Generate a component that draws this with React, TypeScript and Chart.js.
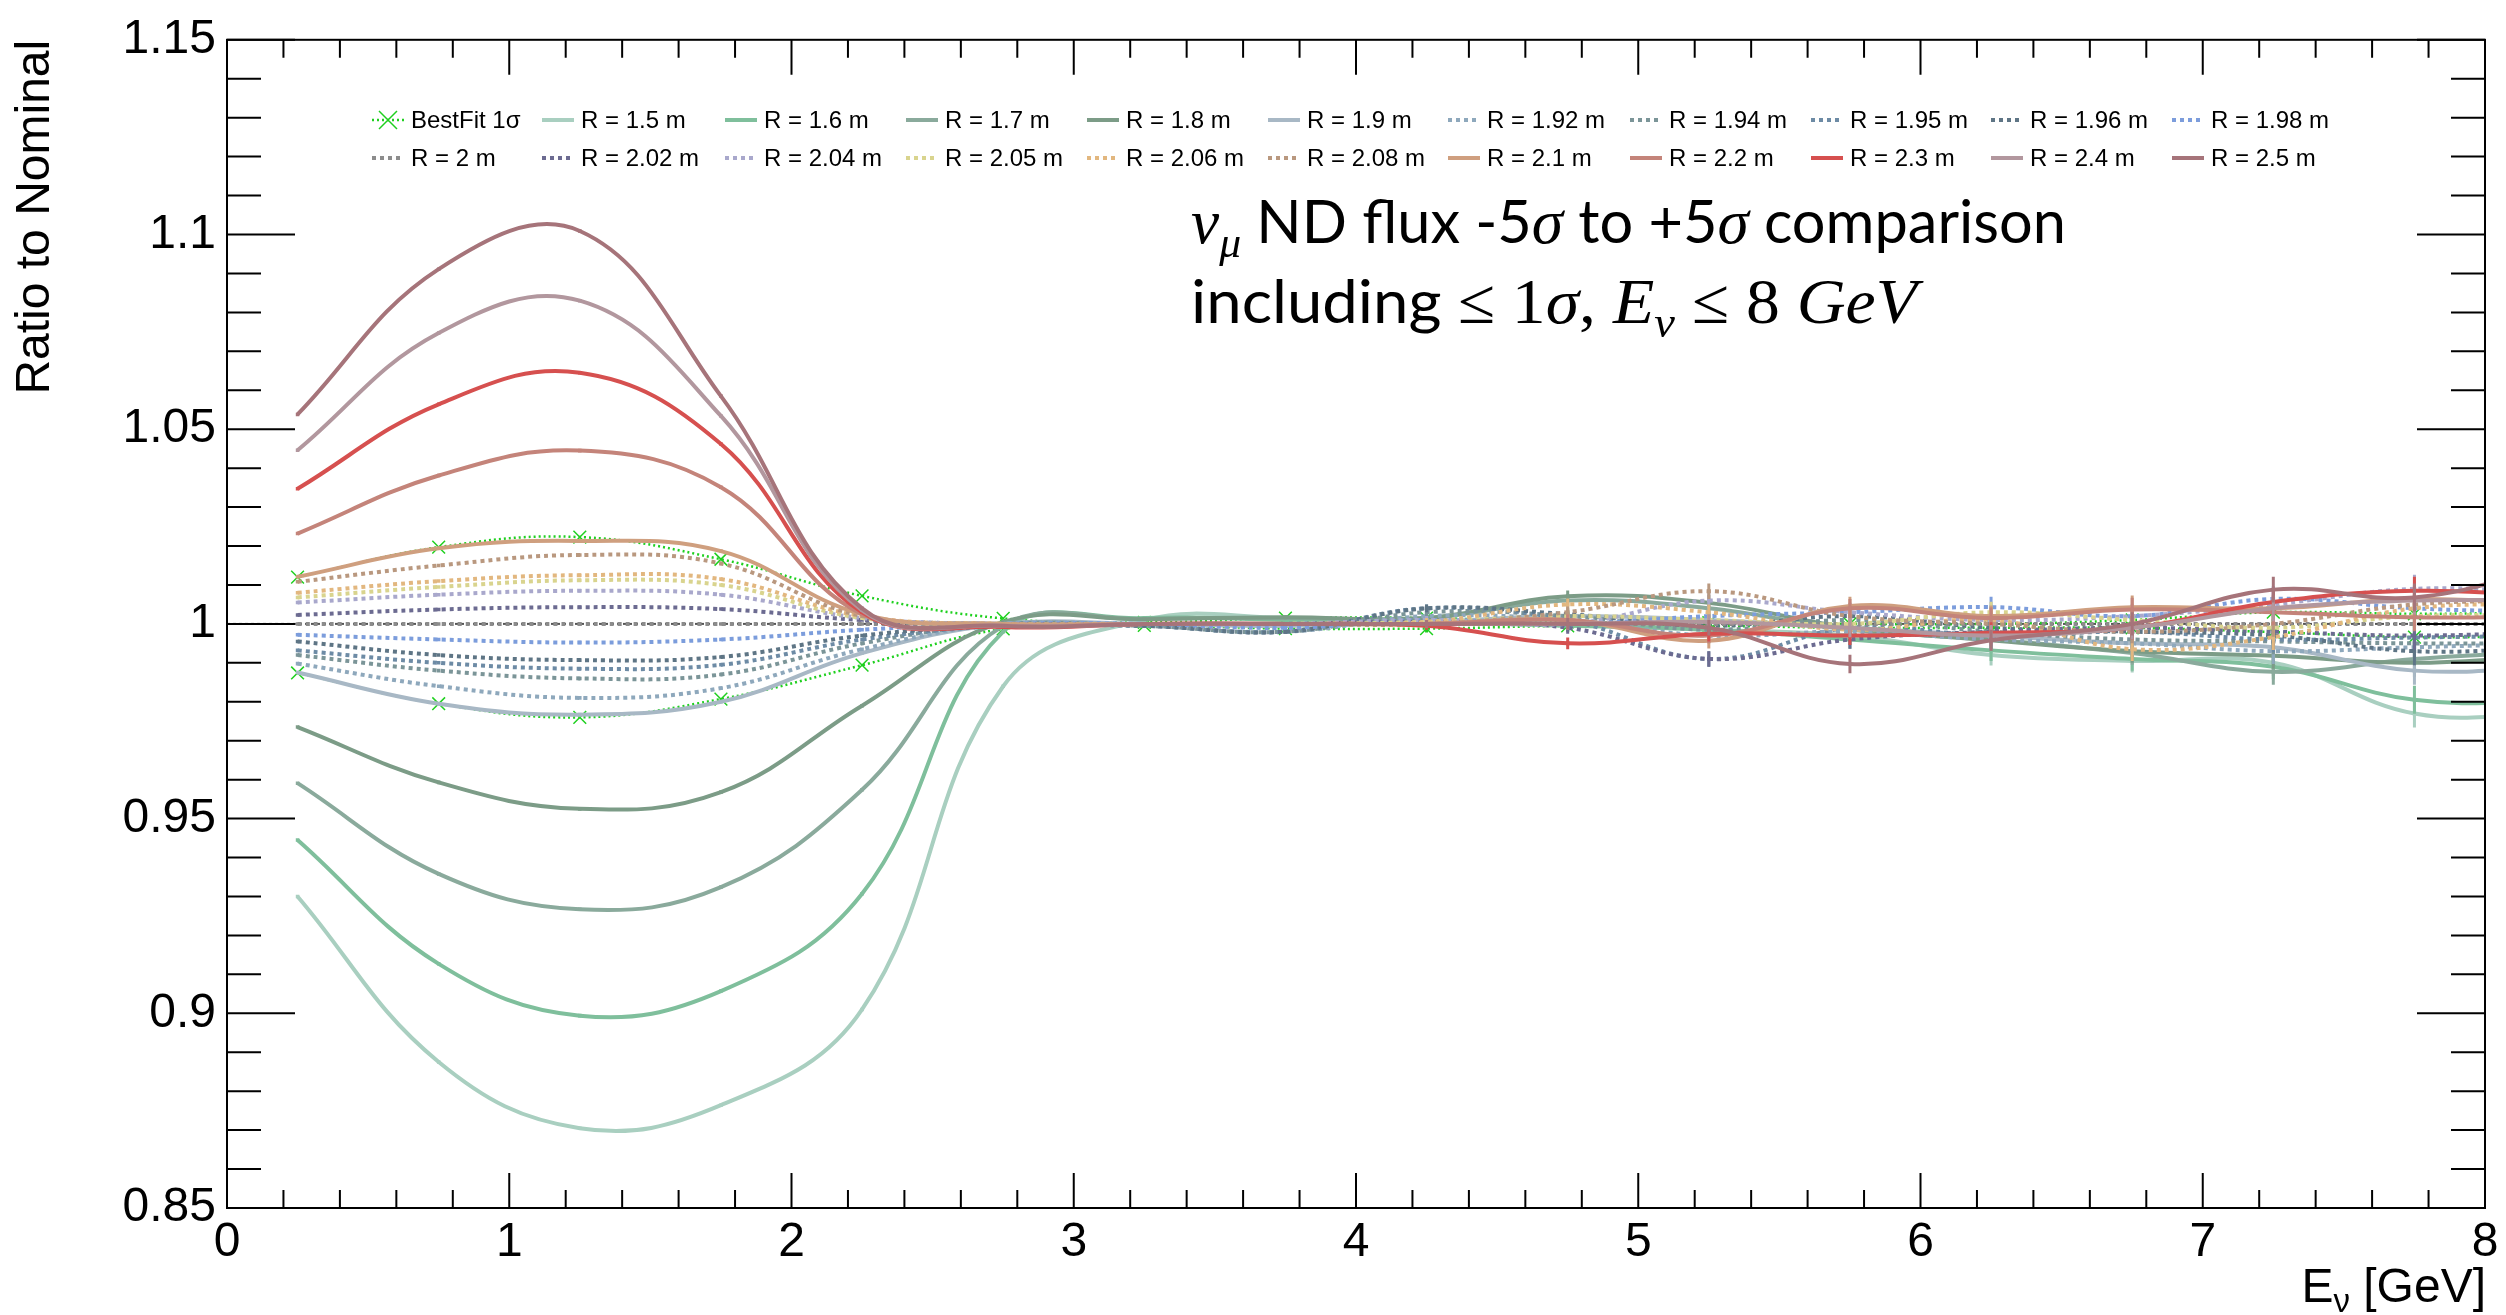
import React, { useEffect, useRef } from 'react';
import { Chart, registerables } from 'chart.js';

Chart.register(...registerables);

const W = 2506;
const H = 1315;
const FONT = '"Liberation Sans", Arial, Helvetica, sans-serif';
const TEXT_FONT = 'Lato, "Open Sans", sans-serif';
const MATH_FONT = '"Liberation Serif", "DejaVu Serif", serif';

// ---------- data ----------
const X_CENTERS = [0.25, 0.75, 1.25, 1.75, 2.25, 2.75, 3.25, 3.75, 4.25, 4.75, 5.25, 5.75, 6.25, 6.75, 7.25, 7.75, 8.25];
const X_TICKS = [0, 1, 2, 3, 4, 5, 6, 7, 8];
const Y_TICKS = [0.85, 0.9, 0.95, 1, 1.05, 1.1, 1.15];
const X_MIN = 0, X_MAX = 8, Y_MIN = 0.85, Y_MAX = 1.15;
const X_MINOR = 0.2, Y_MINOR = 0.01;
const REF_VALUE = 1;
const ERR = [0, 0, 0, 0, 0, 0, 0, 0.0005, 0.001, 0.0015, 0.002, 0.0024, 0.0027, 0.003, 0.0033, 0.0036, 0.004];

const BF_UP = [1.012, 1.0197, 1.0223, 1.0166, 1.0072, 1.0014, 1.0004, 1.0015, 1.0015, 1.0005, 1.0003, 1.0, 1.0, 1.001, 1.003, 1.0026, 1.003];
const BF_LO = [0.9874, 0.9795, 0.976, 0.9807, 0.9894, 0.9987, 0.9996, 0.9988, 0.9988, 0.9995, 0.9995, 0.999, 0.999, 0.999, 0.9979, 0.9966, 0.997];
const R150 = [0.930, 0.8875, 0.8705, 0.8764, 0.901, 0.984, 1.001, 1.0015, 1.0005, 1.0, 0.9985, 0.997, 0.992, 0.9905, 0.990, 0.977, 0.977];
const R160 = [0.9445, 0.9127, 0.8994, 0.9057, 0.9307, 0.998, 1.0015, 1.001, 1.0005, 0.9995, 0.9985, 0.996, 0.9932, 0.991, 0.989, 0.9805, 0.980];
const R170 = [0.9591, 0.9358, 0.9267, 0.9324, 0.9574, 0.9995, 1.0012, 1.0015, 1.0015, 1.006, 1.004, 0.9985, 0.996, 0.9925, 0.9877, 0.991, 0.993];
const R180 = [0.9735, 0.9593, 0.9525, 0.9568, 0.979, 1.0005, 1.0012, 1.0017, 1.0015, 1.0071, 1.0054, 0.999, 0.9958, 0.993, 0.9918, 0.990, 0.992];
const R190 = [0.9875, 0.9795, 0.9767, 0.980, 0.9925, 1.0, 1.0, 0.9995, 1.0005, 1.002, 1.001, 0.999, 0.997, 0.995, 0.994, 0.988, 0.989];
const R192 = [0.9898, 0.984, 0.981, 0.9835, 0.9935, 1.0, 0.9995, 0.998, 1.002, 1.001, 0.997, 0.998, 0.996, 0.995, 0.993, 0.994, 0.995];
const R194 = [0.992, 0.988, 0.986, 0.987, 0.995, 1.0, 0.9995, 0.998, 1.003, 1.002, 0.9985, 1.001, 0.998, 0.996, 0.9955, 0.995, 0.995];
const R195 = [0.9932, 0.990, 0.9885, 0.9895, 0.996, 0.9995, 0.9995, 0.998, 1.004, 1.001, 0.991, 0.999, 0.997, 0.998, 0.996, 0.9965, 0.997];
const R196 = [0.9955, 0.992, 0.9907, 0.9915, 0.997, 0.9995, 0.9995, 0.998, 1.004, 1.0025, 0.9995, 1.002, 0.999, 0.998, 0.997, 0.993, 0.994];
const R198 = [0.9972, 0.996, 0.9952, 0.996, 0.9985, 1.0, 1.0, 0.999, 1.001, 1.0, 1.002, 1.003, 1.0043, 1.002, 1.0064, 1.004, 1.003];
const R200 = [1, 1, 1, 1, 1, 1, 1, 1, 1, 1, 1, 1, 1, 1, 1, 1, 1];
const R202 = [1.0023, 1.0037, 1.0043, 1.0038, 1.001, 1.0, 1.0, 1.0, 1.0005, 0.999, 0.991, 0.996, 0.998, 0.999, 0.998, 0.997, 0.998];
const R204 = [1.0055, 1.0075, 1.0085, 1.0075, 1.0015, 1.0, 1.0, 1.0, 1.001, 1.0, 1.006, 1.003, 1.001, 1.002, 1.005, 1.009, 1.008];
const R205 = [1.0068, 1.0095, 1.0112, 1.010, 1.0015, 1.0, 1.0, 1.0, 1.0005, 1.002, 1.001, 1.0, 1.003, 1.001, 0.999, 1.002, 1.002];
const R206 = [1.008, 1.011, 1.0125, 1.0115, 1.002, 1.0, 1.0, 1.0, 1.0005, 1.005, 1.003, 0.9985, 1.001, 0.9935, 0.9966, 1.004, 1.005];
const R208 = [1.0108, 1.015, 1.0177, 1.0155, 1.002, 1.0, 1.0, 1.0, 1.0, 1.003, 1.0084, 1.002, 1.0, 0.998, 1.0, 1.005, 1.006];
const R210 = [1.0121, 1.0194, 1.0213, 1.0187, 1.0025, 1.0, 1.0, 1.0, 1.0, 1.001, 0.9957, 1.0046, 1.002, 1.0043, 1.004, 1.0064, 1.005];
const R220 = [1.0232, 1.0381, 1.0445, 1.0351, 1.0025, 0.9995, 1.0, 1.0, 1.0, 1.001, 0.997, 1.004, 1.0015, 1.0037, 1.003, 1.0017, 1.002];
const R230 = [1.0347, 1.0564, 1.0645, 1.0462, 1.003, 0.9992, 1.0, 1.0, 0.9995, 0.995, 0.9975, 0.997, 0.9977, 0.999, 1.0056, 1.0085, 1.007];
const R240 = [1.0446, 1.0747, 1.083, 1.0534, 1.0035, 0.9995, 1.0, 1.0, 1.0, 1.0, 1.0005, 0.999, 0.997, 0.999, 1.004, 1.006, 1.006];
const R250 = [1.0538, 1.0911, 1.1009, 1.0585, 1.004, 0.9995, 1.0, 1.0, 1.0, 1.0, 0.999, 0.9897, 0.9958, 1.0, 1.0088, 1.0068, 1.015];

const BF_COLOR = '#1fd01f';

type Series = { label: string; values: number[]; color: string; dotted: boolean };
const SERIES: Series[] = [
  { label: 'R = 1.5 m', values: R150, color: '#a9cfc0', dotted: false },
  { label: 'R = 1.6 m', values: R160, color: '#7fbf9c', dotted: false },
  { label: 'R = 1.7 m', values: R170, color: '#8aaa9c', dotted: false },
  { label: 'R = 1.8 m', values: R180, color: '#7c9c87', dotted: false },
  { label: 'R = 1.9 m', values: R190, color: '#a8b8c5', dotted: false },
  { label: 'R = 1.92 m', values: R192, color: '#8ea8bc', dotted: true },
  { label: 'R = 1.94 m', values: R194, color: '#7b9598', dotted: true },
  { label: 'R = 1.95 m', values: R195, color: '#6d8ba5', dotted: true },
  { label: 'R = 1.96 m', values: R196, color: '#5e7585', dotted: true },
  { label: 'R = 1.98 m', values: R198, color: '#7c9ddc', dotted: true },
  { label: 'R = 2 m', values: R200, color: '#8c8c8c', dotted: true },
  { label: 'R = 2.02 m', values: R202, color: '#6c6b91', dotted: true },
  { label: 'R = 2.04 m', values: R204, color: '#a9a8cc', dotted: true },
  { label: 'R = 2.05 m', values: R205, color: '#d9d48e', dotted: true },
  { label: 'R = 2.06 m', values: R206, color: '#e2b77f', dotted: true },
  { label: 'R = 2.08 m', values: R208, color: '#b9987f', dotted: true },
  { label: 'R = 2.1 m', values: R210, color: '#cf9f7f', dotted: false },
  { label: 'R = 2.2 m', values: R220, color: '#c4847a', dotted: false },
  { label: 'R = 2.3 m', values: R230, color: '#d6504f', dotted: false },
  { label: 'R = 2.4 m', values: R240, color: '#b2979e', dotted: false },
  { label: 'R = 2.5 m', values: R250, color: '#a6747a', dotted: false },
];

// ---------- layout ----------
const AREA = { left: 227, top: 32, right: 2485, bottom: 1208 };
const LEGEND_COL_X = [372, 542, 725, 906, 1087, 1268, 1448, 1630, 1811, 1991, 2172];
const LEGEND_ROW_Y = [120, 158];
const LEGEND_SAMPLE = 32;
const LEGEND_TEXT_GAP = 39;
const TENSION = 0.4;

const toPoints = (vals: number[]) => X_CENTERS.map((x, i) => ({ x, y: vals[i] }));

function drawRich(ctx: CanvasRenderingContext2D, segs: { t: string; f: string; dy?: number }[], x: number, y: number, targetW: number) {
  let total = 0;
  for (const s of segs) { ctx.font = s.f; total += ctx.measureText(s.t).width; }
  const sx = targetW / total;
  ctx.save();
  ctx.translate(x, y);
  ctx.scale(sx, 1);
  let cx = 0;
  for (const s of segs) {
    ctx.font = s.f;
    ctx.fillText(s.t, cx, s.dy || 0);
    cx += ctx.measureText(s.t).width;
  }
  ctx.restore();
}

const errorBarPlugin = {
  id: 'errorBars',
  afterDatasetDraw(chart: any, args: any) {
    const ds = chart.data.datasets[args.index];
    if (!ds.errValues) return;
    const { ctx, chartArea: a, scales } = chart;
    ctx.save();
    ctx.beginPath();
    ctx.rect(a.left, a.top, a.right - a.left, a.bottom - a.top);
    ctx.clip();
    ctx.strokeStyle = ds.borderColor;
    ctx.lineWidth = 3;
    ctx.setLineDash([]);
    const vals: number[] = ds.errValues;
    X_CENTERS.forEach((x, i) => {
      const e = ERR[i];
      if (!e) return;
      const px = scales.x.getPixelForValue(x);
      ctx.beginPath();
      ctx.moveTo(px, scales.y.getPixelForValue(vals[i] - e));
      ctx.lineTo(px, scales.y.getPixelForValue(vals[i] + e));
      ctx.stroke();
    });
    ctx.restore();
  },
};

const framePlugin = {
  id: 'rootFrame',
  afterDraw(chart: any) {
    const { ctx, chartArea: a, scales } = chart;
    const xs = scales.x, ys = scales.y;
    ctx.save();
    ctx.strokeStyle = '#000';
    ctx.lineWidth = 2;
    ctx.setLineDash([]);
    ctx.strokeRect(a.left, a.top, a.right - a.left, a.bottom - a.top);
    ctx.beginPath();
    const ny = Math.round((Y_MAX - Y_MIN) / Y_MINOR);
    for (let k = 0; k <= ny; k++) {
      const py = ys.getPixelForValue(Y_MIN + k * Y_MINOR);
      const len = k % 5 === 0 ? 68 : 34;
      ctx.moveTo(a.left, py); ctx.lineTo(a.left + len, py);
      ctx.moveTo(a.right, py); ctx.lineTo(a.right - len, py);
    }
    const nx = Math.round((X_MAX - X_MIN) / X_MINOR);
    for (let k = 0; k <= nx; k++) {
      const px = xs.getPixelForValue(X_MIN + k * X_MINOR);
      const len = k % 5 === 0 ? 35 : 18;
      ctx.moveTo(px, a.bottom); ctx.lineTo(px, a.bottom - len);
      ctx.moveTo(px, a.top); ctx.lineTo(px, a.top + len);
    }
    ctx.stroke();

    // x-axis title  E_ν [GeV]
    ctx.fillStyle = '#000';
    ctx.textBaseline = 'alphabetic';
    ctx.textAlign = 'left';
    const big = `48px ${FONT}`, sub = `33px ${FONT}`;
    ctx.font = big; const w1 = ctx.measureText('E').width; const w3 = ctx.measureText(' [GeV]').width;
    ctx.font = sub; const w2 = ctx.measureText('ν').width;
    let tx = a.right + 1 - (w1 + w2 + w3);
    ctx.font = big; ctx.fillText('E', tx, 1302); tx += w1;
    ctx.font = sub; ctx.fillText('ν', tx, 1312); tx += w2;
    ctx.font = big; ctx.fillText(' [GeV]', tx, 1302);

    // legend
    const entries = [{ label: 'BestFit 1σ', color: BF_COLOR, dotted: true, bf: true }, ...SERIES.map((s) => ({ ...s, bf: false }))];
    ctx.textBaseline = 'middle';
    entries.forEach((e, i) => {
      const row = Math.floor(i / LEGEND_COL_X.length);
      const col = i % LEGEND_COL_X.length;
      const x0 = LEGEND_COL_X[col];
      const y0 = LEGEND_ROW_Y[row];
      ctx.save();
      ctx.strokeStyle = e.color;
      if (e.bf) {
        ctx.lineWidth = 2.5;
        ctx.setLineDash([2, 3]);
      } else {
        ctx.lineWidth = 4;
        ctx.setLineDash(e.dotted ? [4, 4] : []);
      }
      ctx.beginPath();
      ctx.moveTo(x0, y0); ctx.lineTo(x0 + LEGEND_SAMPLE, y0);
      ctx.stroke();
      if (e.bf) {
        ctx.setLineDash([]);
        ctx.lineWidth = 1.5;
        const cxm = x0 + LEGEND_SAMPLE / 2, r = 9;
        ctx.beginPath();
        ctx.moveTo(cxm - r, y0 - r); ctx.lineTo(cxm + r, y0 + r);
        ctx.moveTo(cxm - r, y0 + r); ctx.lineTo(cxm + r, y0 - r);
        ctx.stroke();
      }
      ctx.restore();
      ctx.fillStyle = '#000';
      ctx.font = `24px ${FONT}`;
      ctx.fillText(e.label, x0 + LEGEND_TEXT_GAP, y0 + 1);
    });

    // annotation
    ctx.textBaseline = 'alphabetic';
    ctx.fillStyle = '#000';
    const T = `60px ${TEXT_FONT}`;
    const MI = `italic 64px ${MATH_FONT}`;
    const MIs = `italic 44px ${MATH_FONT}`;
    const MR = `64px ${MATH_FONT}`;
    drawRich(ctx, [
      { t: 'ν', f: MI }, { t: 'μ', f: MIs, dy: 14 }, { t: ' ND flux -5', f: T }, { t: 'σ', f: MI },
      { t: ' to +5', f: T }, { t: 'σ', f: MI }, { t: ' comparison', f: T },
    ], 1191, 243, 875);
    drawRich(ctx, [
      { t: 'including ', f: T }, { t: '≤ 1', f: MR }, { t: 'σ', f: MI }, { t: ', ', f: MR },
      { t: 'E', f: MI }, { t: 'ν', f: MIs, dy: 14 }, { t: ' ≤ 8 ', f: MR }, { t: 'GeV', f: MI },
    ], 1191, 323, 726);
    ctx.restore();
  },
};

export default function App() {
  const ref = useRef<HTMLCanvasElement | null>(null);
  useEffect(() => {
    document.body.style.margin = '0';
    const canvas = ref.current;
    if (!canvas) return;
    const n = SERIES.length;
    const datasets: any[] = [];
    SERIES.forEach((s, i) => {
      datasets.push({
        label: s.label,
        data: toPoints(s.values),
        errValues: s.values,
        borderColor: s.color,
        backgroundColor: s.color,
        borderWidth: 4,
        borderDash: s.dotted ? [4, 4] : [],
        pointRadius: 2.5,
        pointStyle: 'rect',
        pointBorderWidth: 0,
        pointBackgroundColor: s.color,
        tension: TENSION,
        fill: false,
        clip: 0,
        order: n - i,
      });
    });
    [BF_UP, BF_LO].forEach((vals, k) => {
      datasets.push({
        label: k === 0 ? 'BestFit 1σ' : 'BestFit 1σ (low)',
        data: toPoints(vals),
        errValues: vals,
        borderColor: BF_COLOR,
        backgroundColor: BF_COLOR,
        borderWidth: 2.5,
        borderDash: [2, 3],
        pointRadius: 9,
        pointStyle: 'crossRot',
        pointBorderWidth: 1.5,
        pointBorderColor: BF_COLOR,
        tension: TENSION,
        fill: false,
        clip: 0,
        order: n + 1,
      });
    });
    datasets.push({
      label: 'ref',
      data: [{ x: X_MIN, y: REF_VALUE }, { x: X_MAX, y: REF_VALUE }],
      borderColor: '#555555',
      borderWidth: 2,
      borderDash: [3, 3],
      pointRadius: 0,
      fill: false,
      clip: 0,
      order: n + 10,
    });

    const chart = new Chart(canvas, {
      type: 'line',
      data: { datasets },
      plugins: [errorBarPlugin, framePlugin],
      options: {
        responsive: false,
        maintainAspectRatio: false,
        devicePixelRatio: 1,
        animation: false,
        events: [],
        layout: { padding: { left: 0, top: AREA.top, right: W - AREA.right, bottom: 0 } },
        plugins: { legend: { display: false }, tooltip: { enabled: false } },
        scales: {
          x: {
            type: 'linear',
            min: X_MIN,
            max: X_MAX,
            grid: { display: false, drawTicks: false },
            border: { display: false },
            afterBuildTicks: (s: any) => { s.ticks = X_TICKS.map((v) => ({ value: v })); },
            afterFit: (s: any) => { s.height = H - AREA.bottom; },
            ticks: {
              color: '#000',
              padding: 6,
              maxRotation: 0,
              autoSkip: false,
              font: { family: FONT, size: 48 },
              callback: (v: any) => String(v),
            },
          },
          y: {
            type: 'linear',
            min: Y_MIN,
            max: Y_MAX,
            grid: { display: false, drawTicks: false },
            border: { display: false },
            afterBuildTicks: (s: any) => { s.ticks = Y_TICKS.map((v) => ({ value: v })); },
            afterFit: (s: any) => { s.width = AREA.left; },
            ticks: {
              color: '#000',
              padding: 11,
              autoSkip: false,
              font: { family: FONT, size: 48 },
              callback: (v: any) => String(Math.round(v * 1000) / 1000),
            },
            title: {
              display: true,
              text: 'Ratio to Nominal',
              align: 'end',
              color: '#000',
              padding: { top: 7, bottom: 0 },
              font: { family: FONT, size: 48 },
            },
          },
        },
      } as any,
    });
    return () => chart.destroy();
  }, []);
  return <canvas ref={ref} width={W} height={H} style={{ display: 'block', width: W, height: H }} />;
}
